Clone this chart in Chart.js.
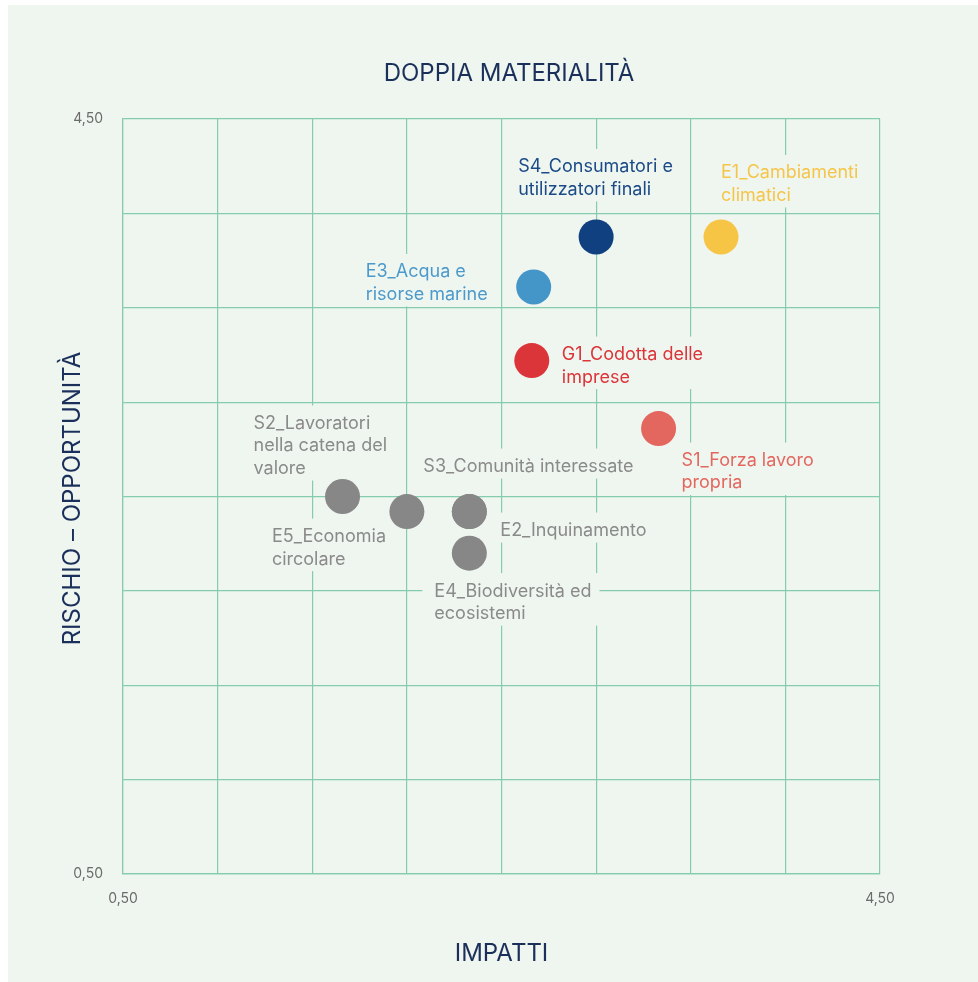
<!DOCTYPE html>
<html><head><meta charset="utf-8">
<script src="https://cdn.jsdelivr.net/npm/chart.js@4"></script>
<style>
html,body{margin:0;padding:0;background:#ffffff;overflow:hidden;}
#bg{position:absolute;left:8px;top:5px;width:970px;height:977px;background:#eff6f0;}
#c{position:absolute;left:0;top:0;}
</style></head><body>
<div id="bg"></div>
<canvas id="c" width="978" height="982" style="width:978px;height:982px"></canvas>
<script>
// ---- data ----
const categories = ["S4","E1","E3","G1","S1","S2","E5","S3","E2","E4"];
const impatti = [3.00, 3.66, 2.67, 2.66, 3.33, 1.66, 2.00, 2.33, 2.33, 2.33];
const rischio = [3.875, 3.875, 3.61, 3.22, 2.86, 2.50, 2.42, 2.42, 2.42, 2.20];
const labelTexts = [
  ["S4_Consumatori e","utilizzatori finali"],
  ["E1_Cambiamenti","climatici"],
  ["E3_Acqua e","risorse marine"],
  ["G1_Codotta delle","imprese"],
  ["S1_Forza lavoro","propria"],
  ["S2_Lavoratori","nella catena del","valore"],
  ["E5_Economia","circolare"],
  ["S3_Comunità interessate"],
  ["E2_Inquinamento"],
  ["E4_Biodiversità ed","ecosistemi"]
];
const tickLabels = {"0.5":"0,50","4.5":"4,50"};
const chartTitle = "DOPPIA MATERIALITÀ";
const xTitle = "IMPATTI";
const yTitle = "RISCHIO – OPPORTUNITÀ";

// ---- styles ----
const pointColors = ["#10407f","#f7c545","#4596c8","#dc3539","#e4675f","#878787","#878787","#878787","#878787","#878787"];
const labelColors = ["#1b4a86","#f5c54a","#4c9acb","#dc3539","#e4675f","#8a8a8a","#8a8a8a","#8a8a8a","#8a8a8a","#8a8a8a"];
// label offset from point centre: left edge of text, centre of first line
const labelOffsets = [[-78,-70],[0,-64],[-168,-15],[30,-6],[23,32],[-89,-73],[-135,25],[-46,-45],[31,19],[-35,38]];
const BG = "#eff6f0";
const GRID = "#84ccab";
const NAVY = "#1a2f5a";
const FONT = "Inter, 'Noto Sans', sans-serif";

const labelPlugin = {
  id: "labels",
  beforeDatasetsDraw(chart) {
    const ctx = chart.ctx;
    const meta = chart.getDatasetMeta(0);
    ctx.save();
    ctx.font = "18px " + FONT;
    ctx.textBaseline = "middle";
    ctx.textAlign = "left";
    const lh = 22.5;
    meta.data.forEach((pt, i) => {
      const lines = labelTexts[i];
      const x0 = pt.x + labelOffsets[i][0];
      const y0 = pt.y + labelOffsets[i][1];
      let w = 0;
      lines.forEach(l => { w = Math.max(w, ctx.measureText(l).width); });
      ctx.fillStyle = BG;
      ctx.fillRect(x0 - 12, y0 - 18, w + 20, (lines.length - 1) * lh + 30);
      ctx.fillStyle = labelColors[i];
      lines.forEach((l, k) => ctx.fillText(l, x0, y0 + k * lh));
    });
    ctx.restore();
  },
  afterDraw(chart) {
    const ctx = chart.ctx;
    const a = chart.chartArea;
    ctx.save();
    ctx.fillStyle = NAVY;
    ctx.textAlign = "center";
    ctx.textBaseline = "middle";
    ctx.font = "24px " + FONT;
    ctx.fillText(chartTitle, 509, 74);
    ctx.fillText(xTitle, (a.left + a.right) / 2, 954);
    ctx.translate(73, (a.top + a.bottom) / 2 + 2);
    ctx.rotate(-Math.PI / 2);
    ctx.fillText(yTitle, 0, 0);
    ctx.restore();
  }
};

const tickCb = v => tickLabels[String(+v)] || "";

new Chart(document.getElementById("c"), {
  type: "scatter",
  data: {
    labels: categories,
    datasets: [{
      data: impatti.map((x, i) => ({x: x, y: rischio[i]})),
      backgroundColor: pointColors,
      borderWidth: 0,
      pointRadius: 17.5,
      pointHoverRadius: 17.5
    }]
  },
  options: {
    responsive: false,
    animation: false,
    events: [],
    layout: {padding: {left: 0, right: 98, top: 119, bottom: 0}},
    plugins: {legend: {display: false}, tooltip: {enabled: false}, title: {display: false}},
    scales: {
      x: {
        type: "linear", min: 0.5, max: 4.5,
        afterFit(s) { s.height = 108; },
        grid: {color: GRID, lineWidth: 1.2, drawTicks: false},
        border: {color: GRID, width: 1.2},
        ticks: {stepSize: 0.5, autoSkip: false, maxRotation: 0, padding: 16, color: "#6b6b6b",
                font: {size: 14, family: FONT}, callback: tickCb}
      },
      y: {
        type: "linear", min: 0.5, max: 4.5,
        afterFit(s) { s.width = 123; },
        grid: {color: GRID, lineWidth: 1.2, drawTicks: false},
        border: {color: GRID, width: 1.2},
        ticks: {stepSize: 0.5, autoSkip: false, padding: 20, color: "#6b6b6b",
                font: {size: 14, family: FONT}, callback: tickCb}
      }
    }
  },
  plugins: [labelPlugin]
});
</script>
</body></html>
